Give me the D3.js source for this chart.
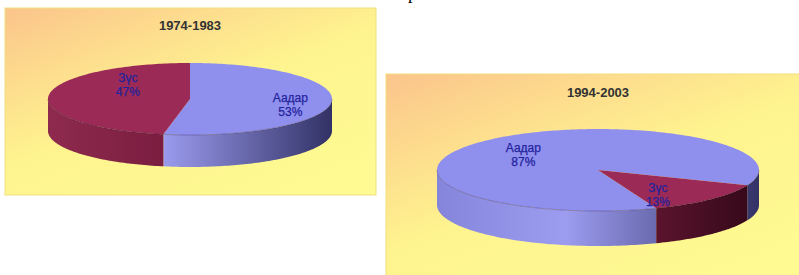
<!DOCTYPE html>
<html>
<head>
<meta charset="utf-8">
<script src="https://cdn.jsdelivr.net/npm/d3@7"></script>
<style>
  html, body { margin: 0; padding: 0; background: #fff; }
  svg { display: block; }
  .title { font-family: "Liberation Sans", Arial, sans-serif; font-weight: bold; font-size: 13px; fill: #333; }
  .lbl { font-family: "Liberation Sans", Arial, sans-serif; font-size: 12px; fill: #23239c; stroke: #23239c; stroke-width: 0.25; }
</style>
</head>
<body>
<div id="chart"></div>
<script>
// data
var categories = ["Аадар", "Зүс"];
var periods = ["1974-1983", "1994-2003"];
var values1974 = [53, 47];
var values1994 = [87, 13];

var W = 799, H = 275;
var svg = d3.select("#chart").append("svg").attr("width", W).attr("height", H);
var defs = svg.append("defs");

// panel background: orange corner fading into yellow
var bg = defs.append("linearGradient").attr("id", "bg")
  .attr("x1", 0).attr("y1", 0).attr("x2", 0.75).attr("y2", 1);
bg.append("stop").attr("offset", 0).attr("stop-color", "#fbc48b");
bg.append("stop").attr("offset", 0.3).attr("stop-color", "#fddf8e");
bg.append("stop").attr("offset", 0.55).attr("stop-color", "#fef48f");
bg.append("stop").attr("offset", 1).attr("stop-color", "#fffa92");

var topColor = { "Аадар": "#8f8fee", "Зүс": "#9c2a56" };
var sideStops = {
  "Аадар": [[0, "#8585dc"], [0.4, "#9c9cf0"], [1, "#323266"]],
  "Зүс": [[0, "#8e2a4e"], [0.45, "#781c3e"], [1, "#320818"]]
};

// each chart: panel box, ellipse geometry, start angle (deg), label placement
var charts = [
  { title: periods[0], values: values1974, panel: [5, 8, 371, 187],
    cx: 190, cy: 99, rx: 142, ry: 36, depth: 32, start: 0, titleY: 30,
    labelR: [0.71, 0.44], labelDy: [4, -13] },
  { title: periods[1], values: values1994, panel: [386, 74, 420, 210],
    cx: 598, cy: 170, rx: 161, ry: 41, depth: 35, start: 158.8, titleY: 97,
    labelR: [0.66, 0.53], labelDy: [4, 10] }
];

// leftover glyph from text above the right panel (cut off in the original too)
svg.append("text").attr("x", 408).attr("y", -1)
  .style("font-family", "'Liberation Serif', serif").style("font-size", "18px")
  .text("р");

charts.forEach(function (c, ci) {
  var g = svg.append("g");
  g.append("rect")
    .attr("x", c.panel[0]).attr("y", c.panel[1])
    .attr("width", c.panel[2]).attr("height", c.panel[3])
    .attr("fill", "url(#bg)")
    .attr("stroke", "#efe07e").attr("stroke-width", 1);

  g.append("text").attr("class", "title")
    .attr("x", c.cx).attr("y", c.titleY).attr("text-anchor", "middle")
    .text(c.title);

  // gradients for side walls
  categories.forEach(function (cat, k) {
    var gr = defs.append("linearGradient").attr("id", "side" + ci + "_" + k)
      .attr("gradientUnits", "userSpaceOnUse")
      .attr("x1", c.cx - c.rx).attr("x2", c.cx + c.rx).attr("y1", 0).attr("y2", 0);
    sideStops[cat].forEach(function (s) {
      gr.append("stop").attr("offset", s[0]).attr("stop-color", s[1]);
    });
  });

  var pie = d3.pie().sort(null)
    .startAngle(c.start * Math.PI / 180)
    .endAngle(c.start * Math.PI / 180 + 2 * Math.PI);
  var arcs = pie(c.values);

  function pt(a, dy) {
    return [c.cx + c.rx * Math.sin(a), c.cy - c.ry * Math.cos(a) + (dy || 0)];
  }
  function arcPts(a0, a1, dy) {
    var n = Math.max(2, Math.ceil(Math.abs(a1 - a0) / 0.02));
    return d3.range(n + 1).map(function (i) { return pt(a0 + (a1 - a0) * i / n, dy); });
  }
  var line = d3.line();

  // side walls: only the front half (angles between 90 and 270 deg)
  arcs.forEach(function (d, k) {
    for (var kk = 0; kk < 2; kk++) {
      var v0 = Math.PI / 2 + kk * 2 * Math.PI, v1 = 3 * Math.PI / 2 + kk * 2 * Math.PI;
      var s = Math.max(d.startAngle, v0), e = Math.min(d.endAngle, v1);
      if (e <= s) continue;
      var top = arcPts(s, e, 0);
      var bot = arcPts(e, s, c.depth);
      g.append("path")
        .attr("d", line(top.concat(bot)) + "Z")
        .attr("fill", "url(#side" + ci + "_" + k + ")");
    }
  });

  // top faces
  arcs.forEach(function (d, k) {
    var pts = [[c.cx, c.cy]].concat(arcPts(d.startAngle, d.endAngle, 0));
    g.append("path")
      .attr("d", line(pts) + "Z")
      .attr("fill", topColor[categories[k]]);
  });

  // faint rim where top meets the wall
  g.append("path")
    .attr("d", line(arcPts(Math.PI / 2, 3 * Math.PI / 2, 0)))
    .attr("fill", "none").attr("stroke", "rgba(40,20,60,0.35)").attr("stroke-width", 0.8);

  // labels
  arcs.forEach(function (d, k) {
    var mid = (d.startAngle + d.endAngle) / 2;
    var f = c.labelR[k];
    var x = c.cx + f * c.rx * Math.sin(mid);
    var y = c.cy - f * c.ry * Math.cos(mid) + c.labelDy[k];
    var pct = Math.round(d.value / d3.sum(c.values) * 100);
    var t = g.append("text").attr("class", "lbl").attr("text-anchor", "middle");
    t.append("tspan").attr("x", x).attr("y", y - 3).text(categories[k]);
    t.append("tspan").attr("x", x).attr("y", y + 11).text(pct + "%");
  });
});
</script>
</body>
</html>
